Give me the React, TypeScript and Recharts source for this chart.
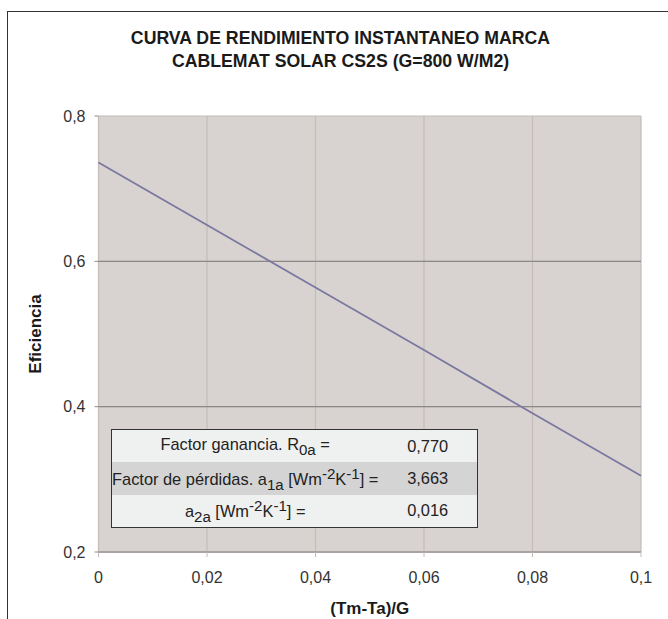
import React from "react";
import { LineChart, Line, XAxis, YAxis, CartesianGrid, ReferenceLine, Label } from "recharts";

const xValues = [0, 0.02, 0.04, 0.06, 0.08, 0.1];
const efficiency = [0.736, 0.65, 0.564, 0.478, 0.391, 0.305];
const xTicks = [0, 0.02, 0.04, 0.06, 0.08, 0.1];
const yTicks = [0.2, 0.4, 0.6, 0.8];
const darkGridValues = [0.4, 0.6];

const titleLines = ["CURVA DE RENDIMIENTO INSTANTANEO MARCA", "CABLEMAT SOLAR CS2S (G=800 W/M2)"];
const tableValues = ["0,770", "3,663", "0,016"];

const FONT = '"Liberation Sans", Arial, Helvetica, sans-serif';
const fmt = (v: number) => String(v).replace(".", ",");

const data = xValues.map((x, i) => ({ x, eff: efficiency[i] }));

const sub = { fontSize: "0.92em", verticalAlign: "-0.3em" };
const sup = { fontSize: "0.92em", verticalAlign: "0.4em" };

const tableLabels: React.ReactNode[] = [
  <>Factor ganancia. R<sub style={sub}>0a</sub> =</>,
  <>Factor de pérdidas. a<sub style={sub}>1a</sub> [Wm<sup style={sup}>-2</sup>K<sup style={sup}>-1</sup>] =</>,
  <>a<sub style={sub}>2a</sub> [Wm<sup style={sup}>-2</sup>K<sup style={sup}>-1</sup>] =</>,
];
const rowColors = ["#eff0f0", "#d4d4d5", "#eff0f0"];

export default function App() {
  return (
    <div style={{ position: "absolute", left: 0, top: 0, width: 668, height: 619, overflow: "hidden", background: "#fff", fontFamily: FONT }}>
      {/* outer frame, only top/left visible in the crop */}
      <div style={{ position: "absolute", left: 7, top: 11, width: 700, height: 700, borderLeft: "1.5px solid #333", borderTop: "1.5px solid #333" }} />

      <div style={{ position: "absolute", left: 0, top: 27, width: 681, textAlign: "center", fontSize: 17.7, fontWeight: "bold", lineHeight: "23px", color: "#1a1a1a" }}>
        {titleLines.map(t => <div key={t}>{t}</div>)}
      </div>

      <div style={{ position: "absolute", left: 0, top: 0 }}>
        <LineChart width={668} height={619} data={data} margin={{ top: 116, right: 27, bottom: 37, left: 0 }}>
          <CartesianGrid fill="#d8d3d0" fillOpacity={1} stroke="#c4bcb8" strokeWidth={1.2} />
          {darkGridValues.map(v => (
            <ReferenceLine key={v} y={v} stroke="#8c8887" strokeWidth={1.3} />
          ))}
          <XAxis
            dataKey="x"
            type="number"
            domain={[0, 0.1]}
            ticks={xTicks}
            tickFormatter={fmt}
            height={30}
            tick={{ fontSize: 16, fill: "#333", fontFamily: FONT }}
            tickSize={5}
            tickMargin={15}
            tickLine={{ stroke: "#c4bcb8" }}
            axisLine={{ stroke: "#a9a3a1", strokeWidth: 2 }}
          >
            <Label
              content={({ viewBox }: any) => (
                <text x={viewBox.x + viewBox.width / 2} y={608} textAnchor="middle" dominantBaseline="central" fontSize={17} fontWeight="bold" fill="#1a1a1a" fontFamily={FONT}>
                  (Tm-Ta)/G
                </text>
              )}
            />
          </XAxis>
          <YAxis
            type="number"
            domain={[0.2, 0.8]}
            ticks={yTicks}
            tickFormatter={fmt}
            width={98.5}
            tick={{ fontSize: 16, fill: "#333", fontFamily: FONT }}
            tickSize={4}
            tickMargin={9}
            tickLine={{ stroke: "#8c8887" }}
            axisLine={false}
          >
            <Label
              content={({ viewBox }: any) => {
                const cy = viewBox.y + viewBox.height / 2;
                return (
                  <text x={35} y={cy} transform={`rotate(-90 35 ${cy})`} textAnchor="middle" dominantBaseline="central" fontSize={17} fontWeight="bold" fill="#1a1a1a" fontFamily={FONT}>
                    Eficiencia
                  </text>
                );
              }}
            />
          </YAxis>
          <Line type="linear" dataKey="eff" stroke="#7a78a0" strokeWidth={1.8} dot={false} isAnimationActive={false} />
        </LineChart>
      </div>

      <table
        style={{
          position: "absolute", left: 111, top: 429, width: 367, height: 98, borderCollapse: "collapse",
          border: "1.5px solid #333", fontSize: 16.4, color: "#222", fontFamily: FONT, boxSizing: "border-box",
        }}
      >
        <tbody>
          {tableValues.map((v, i) => (
            <tr key={v} style={{ background: rowColors[i], height: 32.6 }}>
              <td style={{ width: 266, textAlign: "center", padding: 0, whiteSpace: "nowrap" }}>{tableLabels[i]}</td>
              <td style={{ textAlign: "center", padding: 0 }}>{v}</td>
            </tr>
          ))}
        </tbody>
      </table>
    </div>
  );
}
